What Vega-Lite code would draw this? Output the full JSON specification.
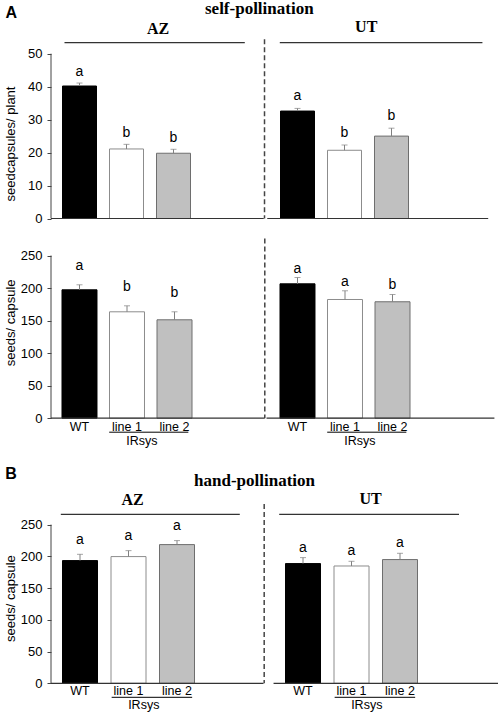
{
"$schema":"https://vega.github.io/schema/vega-lite/v6.json",
"padding":{"left":3,"top":0,"right":0,"bottom":0},
"config":{"view":{"stroke":null},"font":"Liberation Sans","axis":{"labelOverlap":false,"labelFlush":false}},
"datasets":{
"r1":[
{"panel":"AZ","geno":"WT","v":40.2,"hi":41.1,"sig":"a"},
{"panel":"AZ","geno":"line 1","v":21.1,"hi":22.5,"sig":"b"},
{"panel":"AZ","geno":"line 2","v":19.8,"hi":21.0,"sig":"b"},
{"panel":"UT","geno":"WT","v":32.6,"hi":33.4,"sig":"a"},
{"panel":"UT","geno":"line 1","v":20.7,"hi":22.3,"sig":"b"},
{"panel":"UT","geno":"line 2","v":25.0,"hi":27.4,"sig":"b"}],
"r2":[
{"panel":"AZ","geno":"WT","v":197.3,"hi":205,"sig":"a"},
{"panel":"AZ","geno":"line 1","v":163.5,"hi":172.7,"sig":"b"},
{"panel":"AZ","geno":"line 2","v":151.2,"hi":163.5,"sig":"b"},
{"panel":"UT","geno":"WT","v":206.5,"hi":216.2,"sig":"a"},
{"panel":"UT","geno":"line 1","v":182.4,"hi":195.8,"sig":"a"},
{"panel":"UT","geno":"line 2","v":178.9,"hi":190.1,"sig":"b"}],
"r3":[
{"panel":"AZ","geno":"WT","v":193.3,"hi":203.2,"sig":"a"},
{"panel":"AZ","geno":"line 1","v":199.6,"hi":209,"sig":"a"},
{"panel":"AZ","geno":"line 2","v":218.5,"hi":224.8,"sig":"a"},
{"panel":"UT","geno":"WT","v":188.6,"hi":198,"sig":"a"},
{"panel":"UT","geno":"line 1","v":184.8,"hi":192.2,"sig":"a"},
{"panel":"UT","geno":"line 2","v":194.9,"hi":204.8,"sig":"a"}],
"panels":[{"panel":"AZ"},{"panel":"UT"}]
},
"vconcat":[
{
"width":436,"height":217.5,
"data":{"name":"r1"},
"layer":[
{"mark":{"type":"bar","strokeWidth":1},
 "encoding":{
 "x":{"field":"panel","type":"nominal","scale":{"domain":["AZ","UT"],"paddingInner":0,"paddingOuter":0},"axis":null},
 "xOffset":{"field":"geno","type":"nominal","scale":{"domain":["WT","line 1","line 2"],"paddingInner":0.2766,"paddingOuter":0.9574,"align":0.1278}},
 "y":{"field":"v","type":"quantitative","scale":{"domain":[0,65.99],"nice":false,"zero":true},
  "axis":{"values":[0,10,20,30,40,50],"tickCount":20,"labelOverlap":false,"domain":false,"grid":false,"tickSize":4,"tickColor":"#444","labelPadding":5,"labelFontSize":13,"labelFont":"Liberation Sans","labelColor":"#000","title":"seedcapsules/ plant","titleFont":"Liberation Sans","titleFontSize":13,"titleFontWeight":"normal","titleColor":"#000","titleX":-41,"titleY":142.5,"titleAngle":270,"titleAlign":"center","titleBaseline":"middle"}},
 "color":{"field":"geno","type":"nominal","scale":{"domain":["WT","line 1","line 2"],"range":["#000000","#ffffff","#c0c0c0"]},"legend":null},
 "stroke":{"field":"geno","type":"nominal","scale":{"domain":["WT","line 1","line 2"],"range":["#000000","#8c8c8c","#6e6e6e"]},"legend":null}}},
{"mark":{"type":"rule","color":"#808080","strokeWidth":1},
 "encoding":{"x":{"field":"panel","type":"nominal"},"xOffset":{"field":"geno","type":"nominal"},"y":{"field":"v","type":"quantitative"},"y2":{"field":"hi"}}},
{"mark":{"type":"tick","color":"#808080","size":6,"thickness":1},
 "encoding":{"x":{"field":"panel","type":"nominal"},"xOffset":{"field":"geno","type":"nominal"},"y":{"field":"hi","type":"quantitative"}}},
{"transform":[{"filter":"datum.panel == 'AZ'"}],
 "mark":{"type":"text","dy":-7,"baseline":"alphabetic","fontSize":14,"font":"Liberation Sans","color":"#000"},
 "encoding":{"x":{"field":"panel","type":"nominal"},"xOffset":{"field":"geno","type":"nominal"},"y":{"field":"hi","type":"quantitative"},"text":{"field":"sig"}}},
{"transform":[{"filter":"datum.panel == 'UT'"}],
 "mark":{"type":"text","dy":-8,"baseline":"alphabetic","fontSize":14,"font":"Liberation Sans","color":"#000"},
 "encoding":{"x":{"field":"panel","type":"nominal"},"xOffset":{"field":"geno","type":"nominal"},"y":{"field":"hi","type":"quantitative"},"text":{"field":"sig"}}},
{"data":{"values":[{"t":"A"}]},"mark":{"type":"text","font":"Liberation Sans","fontWeight":"bold","fontSize":16,"align":"center","baseline":"alphabetic","color":"#000"},
 "encoding":{"x":{"datum":"AZ","type":"nominal","bandPosition":-0.1826},"y":{"datum":60.92,"type":"quantitative"},"text":{"field":"t"}}},
{"data":{"values":[{"t":"self-pollination"}]},"mark":{"type":"text","font":"Liberation Serif","fontWeight":"bold","fontSize":17,"align":"center","baseline":"alphabetic","color":"#000"},
 "encoding":{"x":{"datum":"AZ","type":"nominal","bandPosition":0.9555},"y":{"datum":61.95,"type":"quantitative"},"text":{"field":"t"}}},
{"data":{"values":[{"t":"AZ"}]},"mark":{"type":"text","font":"Liberation Serif","fontWeight":"bold","fontSize":16,"align":"center","baseline":"alphabetic","color":"#000"},
 "encoding":{"x":{"datum":"AZ","type":"nominal","bandPosition":0.4908},"y":{"datum":55.89,"type":"quantitative"},"text":{"field":"t"}}},
{"data":{"values":[{"t":"UT"}]},"mark":{"type":"text","font":"Liberation Serif","fontWeight":"bold","fontSize":16,"align":"center","baseline":"alphabetic","color":"#000"},
 "encoding":{"x":{"datum":"UT","type":"nominal","bandPosition":0.4459},"y":{"datum":56.67,"type":"quantitative"},"text":{"field":"t"}}},
{"data":{"values":[{}]},"mark":{"type":"rule","color":"#333","strokeWidth":1.3},
 "encoding":{"x":{"datum":"AZ","type":"nominal","bandPosition":0.0619},"x2":{"datum":"AZ","bandPosition":0.889},"y":{"datum":53.34,"type":"quantitative"}}},
{"data":{"values":[{}]},"mark":{"type":"rule","color":"#333","strokeWidth":1.3},
 "encoding":{"x":{"datum":"UT","type":"nominal","bandPosition":0.0495},"x2":{"datum":"UT","bandPosition":0.979},"y":{"datum":53.34,"type":"quantitative"}}},
{"data":{"values":[{}]},"mark":{"type":"rule","color":"#444","strokeWidth":1.5,"strokeDash":[5,3]},
 "encoding":{"x":{"datum":"AZ","type":"nominal","bandPosition":0.9794},"y":{"datum":54.37,"type":"quantitative"},"y2":{"datum":0}}},
{"data":{"values":[{}]},"mark":{"type":"rule","color":"#444","strokeWidth":1},
 "encoding":{"x":{"datum":"AZ","type":"nominal","bandPosition":0},"y":{"datum":0,"type":"quantitative"},"y2":{"datum":50}}},
{"data":{"values":[{}]},"mark":{"type":"rule","color":"#333","strokeWidth":1.2},
 "encoding":{"x":{"datum":"AZ","type":"nominal","bandPosition":0},"x2":{"datum":"AZ","bandPosition":0.976},"y":{"datum":0,"type":"quantitative"}}},
{"data":{"values":[{}]},"mark":{"type":"rule","color":"#333","strokeWidth":1.2},
 "encoding":{"x":{"datum":"UT","type":"nominal","bandPosition":-0.008},"x2":{"datum":"UT","bandPosition":1.0055},"y":{"datum":0,"type":"quantitative"}}}
]
},
{
"width":436,"height":199.2,
"data":{"name":"r2"},
"layer":[
{"mark":{"type":"bar","strokeWidth":1},
 "encoding":{
 "x":{"field":"panel","type":"nominal","scale":{"domain":["AZ","UT"],"paddingInner":0,"paddingOuter":0},"axis":null},
 "xOffset":{"field":"geno","type":"nominal","scale":{"domain":["WT","line 1","line 2"],"paddingInner":0.2632,"paddingOuter":0.9263,"align":0.125}},
 "y":{"field":"v","type":"quantitative","scale":{"domain":[0,306.1],"nice":false,"zero":true},
  "axis":{"values":[0,50,100,150,200,250],"tickCount":20,"labelOverlap":false,"domain":false,"grid":false,"tickSize":4,"tickColor":"#444","labelPadding":5,"labelFontSize":13,"labelFont":"Liberation Sans","labelColor":"#000","title":"seeds/ capsule","titleFont":"Liberation Sans","titleFontSize":13,"titleFontWeight":"normal","titleColor":"#000","titleX":-41,"titleY":103.3,"titleAngle":270,"titleAlign":"center","titleBaseline":"middle"}},
 "color":{"field":"geno","type":"nominal","scale":{"domain":["WT","line 1","line 2"],"range":["#000000","#ffffff","#c0c0c0"]},"legend":null},
 "stroke":{"field":"geno","type":"nominal","scale":{"domain":["WT","line 1","line 2"],"range":["#000000","#8c8c8c","#6e6e6e"]},"legend":null}}},
{"mark":{"type":"rule","color":"#808080","strokeWidth":1},
 "encoding":{"x":{"field":"panel","type":"nominal"},"xOffset":{"field":"geno","type":"nominal"},"y":{"field":"v","type":"quantitative"},"y2":{"field":"hi"}}},
{"mark":{"type":"tick","color":"#808080","size":6,"thickness":1},
 "encoding":{"x":{"field":"panel","type":"nominal"},"xOffset":{"field":"geno","type":"nominal"},"y":{"field":"hi","type":"quantitative"}}},
{"transform":[{"filter":"datum.panel == 'AZ'"}],
 "mark":{"type":"text","dy":-15,"baseline":"alphabetic","fontSize":14,"font":"Liberation Sans","color":"#000"},
 "encoding":{"x":{"field":"panel","type":"nominal"},"xOffset":{"field":"geno","type":"nominal"},"y":{"field":"hi","type":"quantitative"},"text":{"field":"sig"}}},
{"transform":[{"filter":"datum.panel == 'UT'"}],
 "mark":{"type":"text","dy":-5,"baseline":"alphabetic","fontSize":14,"font":"Liberation Sans","color":"#000"},
 "encoding":{"x":{"field":"panel","type":"nominal"},"xOffset":{"field":"geno","type":"nominal"},"y":{"field":"hi","type":"quantitative"},"text":{"field":"sig"}}},
{"mark":{"type":"text","baseline":"alphabetic","fontSize":12.5,"font":"Liberation Sans","color":"#000"},
 "encoding":{"x":{"field":"panel","type":"nominal"},"xOffset":{"field":"geno","type":"nominal"},"y":{"datum":-19.4,"type":"quantitative"},"text":{"field":"geno"}}},
{"data":{"name":"panels"},"mark":{"type":"rule","color":"#000","strokeWidth":1},
 "encoding":{"x":{"field":"panel","type":"nominal","bandPosition":0.267},"x2":{"field":"panel","bandPosition":0.63},"y":{"datum":-21.5,"type":"quantitative"}}},
{"data":{"name":"panels"},"mark":{"type":"text","baseline":"alphabetic","fontSize":12.5,"font":"Liberation Sans","color":"#000"},
 "encoding":{"x":{"field":"panel","type":"nominal","bandPosition":0.417},"y":{"datum":-41.9,"type":"quantitative"},"text":{"value":"IRsys"}}},
{"data":{"values":[{}]},"mark":{"type":"rule","color":"#444","strokeWidth":1.5,"strokeDash":[5,3]},
 "encoding":{"x":{"datum":"AZ","type":"nominal","bandPosition":0.9807},"y":{"datum":276.1,"type":"quantitative"},"y2":{"datum":0}}},
{"data":{"values":[{}]},"mark":{"type":"rule","color":"#444","strokeWidth":1},
 "encoding":{"x":{"datum":"AZ","type":"nominal","bandPosition":0},"y":{"datum":0,"type":"quantitative"},"y2":{"datum":250}}},
{"data":{"values":[{}]},"mark":{"type":"rule","color":"#333","strokeWidth":1.2},
 "encoding":{"x":{"datum":"AZ","type":"nominal","bandPosition":0},"x2":{"datum":"AZ","bandPosition":0.98},"y":{"datum":0,"type":"quantitative"}}},
{"data":{"values":[{}]},"mark":{"type":"rule","color":"#333","strokeWidth":1.2},
 "encoding":{"x":{"datum":"UT","type":"nominal","bandPosition":-0.0115},"x2":{"datum":"UT","bandPosition":1.034},"y":{"datum":0,"type":"quantitative"}}}
]
},
{
"width":446,"height":264.3,
"data":{"name":"r3"},
"layer":[
{"mark":{"type":"bar","strokeWidth":1},
 "encoding":{
 "x":{"field":"panel","type":"nominal","scale":{"domain":["AZ","UT"],"paddingInner":0,"paddingOuter":0},"axis":null},
 "xOffset":{"field":"geno","type":"nominal","scale":{"domain":["WT","line 1","line 2"],"paddingInner":0.2784,"paddingOuter":0.9381,"align":0.1264}},
 "y":{"field":"v","type":"quantitative","scale":{"domain":[0,416.35],"nice":false,"zero":true},
  "axis":{"values":[0,50,100,150,200,250],"tickCount":20,"labelOverlap":false,"domain":false,"grid":false,"tickSize":4,"tickColor":"#444","labelPadding":5,"labelFontSize":13,"labelFont":"Liberation Sans","labelColor":"#000","title":"seeds/ capsule","titleFont":"Liberation Sans","titleFontSize":13,"titleFontWeight":"normal","titleColor":"#000","titleX":-41,"titleY":179.1,"titleAngle":270,"titleAlign":"center","titleBaseline":"middle"}},
 "color":{"field":"geno","type":"nominal","scale":{"domain":["WT","line 1","line 2"],"range":["#000000","#ffffff","#c0c0c0"]},"legend":null},
 "stroke":{"field":"geno","type":"nominal","scale":{"domain":["WT","line 1","line 2"],"range":["#000000","#8c8c8c","#6e6e6e"]},"legend":null}}},
{"mark":{"type":"rule","color":"#808080","strokeWidth":1},
 "encoding":{"x":{"field":"panel","type":"nominal"},"xOffset":{"field":"geno","type":"nominal"},"y":{"field":"v","type":"quantitative"},"y2":{"field":"hi"}}},
{"mark":{"type":"tick","color":"#808080","size":6,"thickness":1},
 "encoding":{"x":{"field":"panel","type":"nominal"},"xOffset":{"field":"geno","type":"nominal"},"y":{"field":"hi","type":"quantitative"}}},
{"transform":[{"filter":"datum.panel == 'AZ'"}],
 "mark":{"type":"text","dy":-10.5,"baseline":"alphabetic","fontSize":14,"font":"Liberation Sans","color":"#000"},
 "encoding":{"x":{"field":"panel","type":"nominal"},"xOffset":{"field":"geno","type":"nominal"},"y":{"field":"hi","type":"quantitative"},"text":{"field":"sig"}}},
{"transform":[{"filter":"datum.panel == 'UT'"}],
 "mark":{"type":"text","dy":-6,"baseline":"alphabetic","fontSize":14,"font":"Liberation Sans","color":"#000"},
 "encoding":{"x":{"field":"panel","type":"nominal"},"xOffset":{"field":"geno","type":"nominal"},"y":{"field":"hi","type":"quantitative"},"text":{"field":"sig"}}},
{"mark":{"type":"text","baseline":"alphabetic","fontSize":12.5,"font":"Liberation Sans","color":"#000"},
 "encoding":{"x":{"field":"panel","type":"nominal"},"xOffset":{"field":"geno","type":"nominal"},"y":{"datum":-17.8,"type":"quantitative"},"text":{"field":"geno"}}},
{"data":{"name":"panels"},"mark":{"type":"rule","color":"#000","strokeWidth":1},
 "encoding":{"x":{"field":"panel","type":"nominal","bandPosition":0.272},"x2":{"field":"panel","bandPosition":0.633},"y":{"datum":-22.05,"type":"quantitative"}}},
{"data":{"name":"panels"},"mark":{"type":"text","baseline":"alphabetic","fontSize":12.5,"font":"Liberation Sans","color":"#000"},
 "encoding":{"x":{"field":"panel","type":"nominal","bandPosition":0.416},"y":{"datum":-40.2,"type":"quantitative"},"text":{"value":"IRsys"}}},
{"data":{"values":[{"t":"B"}]},"mark":{"type":"text","font":"Liberation Sans","fontWeight":"bold","fontSize":16,"align":"center","baseline":"alphabetic","color":"#000"},
 "encoding":{"x":{"datum":"AZ","type":"nominal","bandPosition":-0.179},"y":{"datum":321.9,"type":"quantitative"},"text":{"field":"t"}}},
{"data":{"values":[{"t":"hand-pollination"}]},"mark":{"type":"text","font":"Liberation Serif","fontWeight":"bold","fontSize":17,"align":"center","baseline":"alphabetic","color":"#000"},
 "encoding":{"x":{"datum":"AZ","type":"nominal","bandPosition":0.9126},"y":{"datum":311.1,"type":"quantitative"},"text":{"field":"t"}}},
{"data":{"values":[{"t":"AZ"}]},"mark":{"type":"text","font":"Liberation Serif","fontWeight":"bold","fontSize":16,"align":"center","baseline":"alphabetic","color":"#000"},
 "encoding":{"x":{"datum":"AZ","type":"nominal","bandPosition":0.3655},"y":{"datum":281.5,"type":"quantitative"},"text":{"field":"t"}}},
{"data":{"values":[{"t":"UT"}]},"mark":{"type":"text","font":"Liberation Serif","fontWeight":"bold","fontSize":16,"align":"center","baseline":"alphabetic","color":"#000"},
 "encoding":{"x":{"datum":"UT","type":"nominal","bandPosition":0.4327},"y":{"datum":282.5,"type":"quantitative"},"text":{"field":"t"}}},
{"data":{"values":[{}]},"mark":{"type":"rule","color":"#333","strokeWidth":1.3},
 "encoding":{"x":{"datum":"AZ","type":"nominal","bandPosition":0.044},"x2":{"datum":"AZ","bandPosition":0.8466},"y":{"datum":266.2,"type":"quantitative"}}},
{"data":{"values":[{}]},"mark":{"type":"rule","color":"#333","strokeWidth":1.3},
 "encoding":{"x":{"datum":"UT","type":"nominal","bandPosition":0.0233},"x2":{"datum":"UT","bandPosition":0.8296},"y":{"datum":266.2,"type":"quantitative"}}},
{"data":{"values":[{}]},"mark":{"type":"rule","color":"#444","strokeWidth":1.5,"strokeDash":[5,3]},
 "encoding":{"x":{"datum":"AZ","type":"nominal","bandPosition":0.956},"y":{"datum":282.4,"type":"quantitative"},"y2":{"datum":0}}},
{"data":{"values":[{}]},"mark":{"type":"rule","color":"#444","strokeWidth":1},
 "encoding":{"x":{"datum":"AZ","type":"nominal","bandPosition":0},"y":{"datum":0,"type":"quantitative"},"y2":{"datum":250}}},
{"data":{"values":[{}]},"mark":{"type":"rule","color":"#333","strokeWidth":1.2},
 "encoding":{"x":{"datum":"AZ","type":"nominal","bandPosition":0},"x2":{"datum":"AZ","bandPosition":0.953},"y":{"datum":0,"type":"quantitative"}}},
{"data":{"values":[{}]},"mark":{"type":"rule","color":"#333","strokeWidth":1.2},
 "encoding":{"x":{"datum":"UT","type":"nominal","bandPosition":-0.002},"x2":{"datum":"UT","bandPosition":1.009},"y":{"datum":0,"type":"quantitative"}}}
]
}
],
"spacing":0,
"bounds":"flush",
"resolve":{"scale":{"x":"independent","y":"independent","xOffset":"independent"}}
}
